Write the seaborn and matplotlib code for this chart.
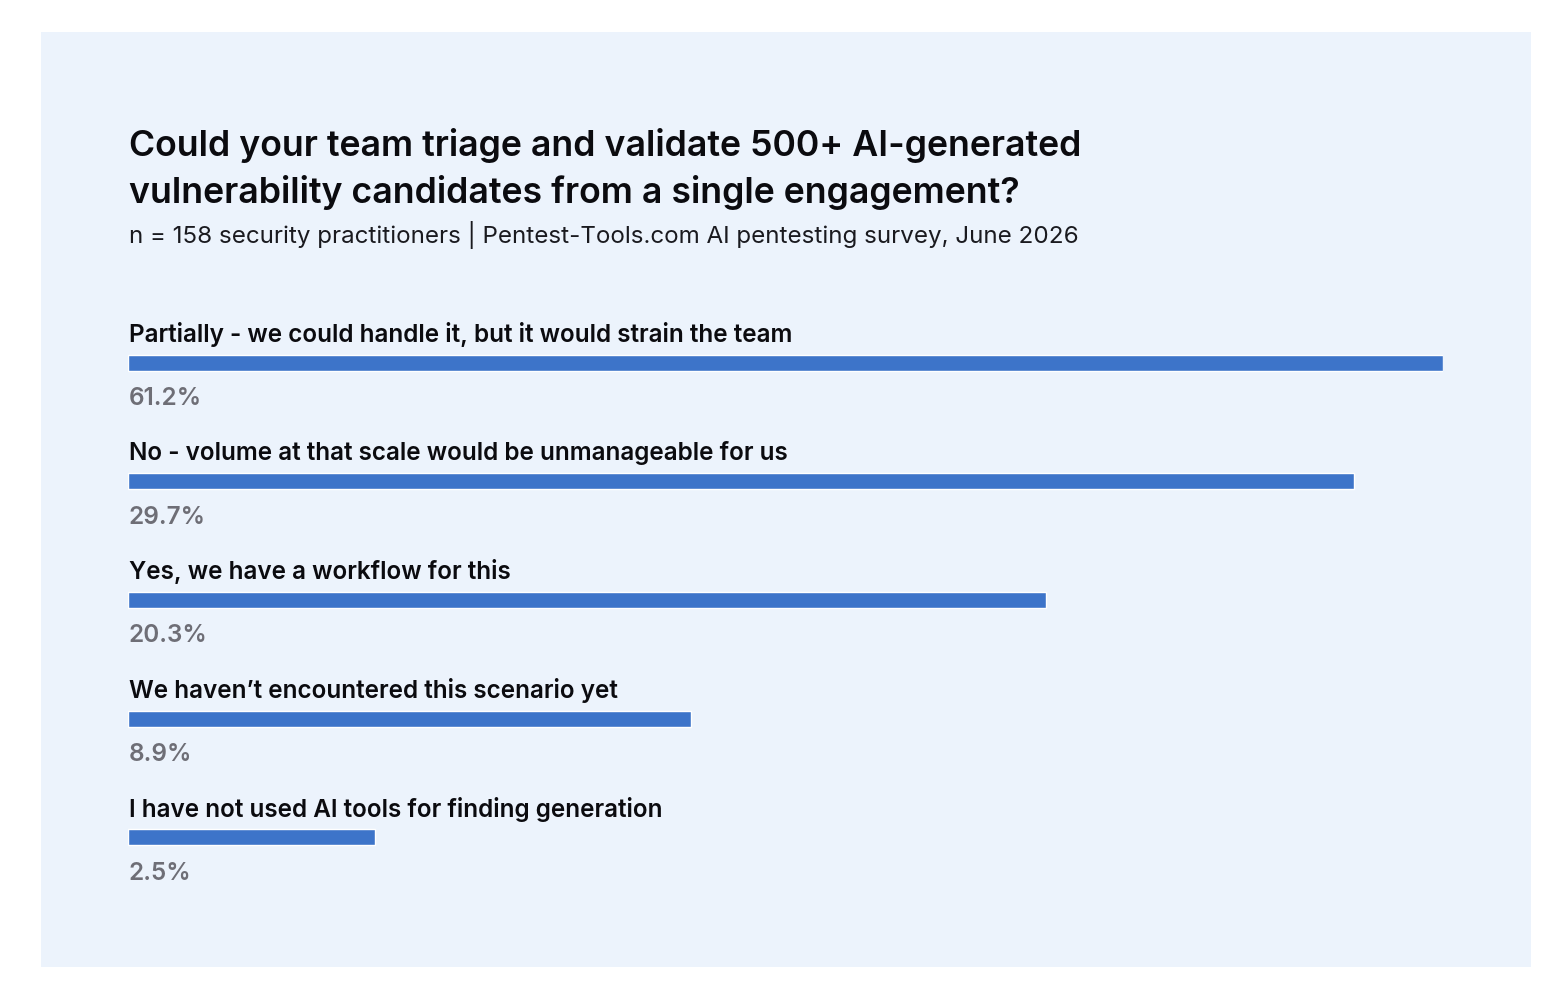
import matplotlib
matplotlib.use("Agg")
import matplotlib.pyplot as plt
from matplotlib.patches import Rectangle
import pandas as pd
import seaborn as sns

# Survey answers, top to bottom
answers = [
    "Partially - we could handle it, but it would strain the team",
    "No - volume at that scale would be unmanageable for us",
    "Yes, we have a workflow for this",
    "We haven\u2019t encountered this scenario yet",
    "I have not used AI tools for finding generation",
]
# Shares as printed under each bar
share_labels = ["61.2%", "29.7%", "20.3%", "8.9%", "2.5%"]
# Bar lengths as drawn (relative, longest = 100)
bar_lengths = [100, 93.2, 69.8, 42.8, 18.8]

title = ("Could your team triage and validate 500+ AI-generated\n"
         "vulnerability candidates from a single engagement?")
subtitle = ("n = 158 security practitioners | Pentest-Tools.com AI pentesting "
            "survey, June 2026")

panel_color = "#ECF3FC"
bar_color = "#3D74C9"

sns.set_theme(style="white")
plt.rcParams['font.family'] = ['Inter', 'DejaVu Sans']

W, H = 1568, 1006
fig = plt.figure(figsize=(W / 100, H / 100), dpi=100)
fig.patch.set_facecolor("white")

# Light blue card behind everything
fig.patches.append(Rectangle((41 / W, 1 - 967 / H), (1531 - 41) / W, (967 - 32) / H,
                             transform=fig.transFigure, facecolor=panel_color,
                             edgecolor="none", zorder=-1))

fig.text(129 / W, 1 - 128 / H, title, fontsize=25.7, fontweight="semibold",
         color="#0B0B0F", va="top", ha="left", linespacing=1.42)
fig.text(129 / W, 1 - 235 / H, subtitle, fontsize=17.4, color="#1A1A1F",
         va="center", ha="left")

# Axes: x 0..100 maps to pixels 128..1443, categories centered at 363..837
y0, y4 = 363, 837
step = (y4 - y0) / 4
ax = fig.add_axes([128 / W, 1 - (y4 + step / 2) / H,
                   (1443 - 128) / W, (y4 - y0 + step) / H])
ax.set_facecolor("none")

df = pd.DataFrame({"answer": answers, "length": bar_lengths})
sns.barplot(data=df, y="answer", x="length", orient="h", color=bar_color,
            width=16 / step, saturation=1, ax=ax)

for i, (ans, lab) in enumerate(zip(answers, share_labels)):
    ax.text(0.05, i - 28 / step, ans, fontsize=17.5, fontweight="semibold",
            color="#0B0B0F", ha="left", va="center")
    ax.text(0.05, i + 36 / step, lab, fontsize=17.5, fontweight="semibold",
            color="#6E6E76", ha="left", va="center")

ax.set_xlim(0, 100)
ax.set_ylim(4.5, -0.5)
ax.set_xlabel("")
ax.set_ylabel("")
ax.set_xticks([])
ax.set_yticks([])
sns.despine(ax=ax, left=True, bottom=True)

fig.savefig("out.png", dpi=100, facecolor="white")
